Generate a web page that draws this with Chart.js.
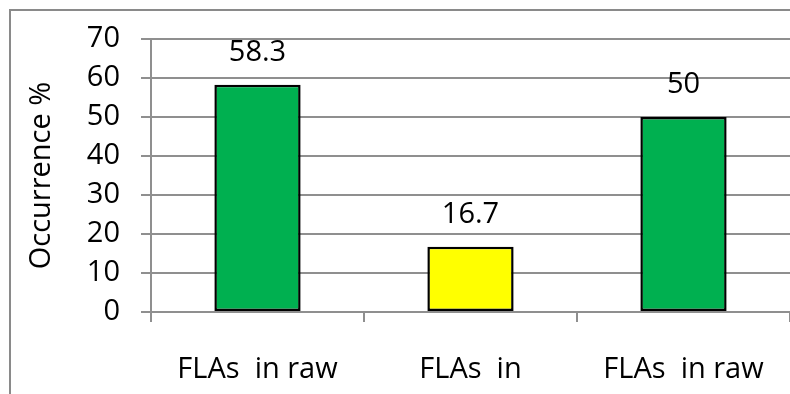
<!DOCTYPE html>
<html lang="en">
<head>
  <meta charset="utf-8">
  <title>FLAs occurrence</title>
  <script src="https://cdn.jsdelivr.net/npm/chart.js@4.4.1/dist/chart.umd.min.js"></script>
  <style>
    body { margin: 0; background: #fff; }
    #wrap { width: 790px; height: 394px; }
  </style>
</head>
<body>
  <div id="wrap"><canvas id="occChart" width="790" height="394"></canvas></div>

<script>
  // values
  var categories = ["FLAs  in raw", "FLAs  in", "FLAs  in raw"];
  var occurrence = [58.3, 16.7, 50];
  var barColors = ["#00B050", "#FFFF00", "#00B050"];
  var yTicks = [0, 10, 20, 30, 40, 50, 60, 70];

  var gridGray = "#8f8f8f";
  var textFont = { family: "'Open Sans'", size: 29 };

  // grey frame of the chart box (only left/top edges fall inside the picture)
  var frame = {
    id: "frame",
    beforeDraw: function(chart) {
      var ctx = chart.ctx;
      ctx.save();
      ctx.strokeStyle = "#8a8a8a";
      ctx.lineWidth = 2;
      ctx.strokeRect(10, 10, 800, 400);
      ctx.restore();
    }
  };

  // value written above every bar
  var valueLabels = {
    id: "valueLabels",
    afterDatasetsDraw: function(chart) {
      var ctx = chart.ctx;
      var meta = chart.getDatasetMeta(0);
      ctx.save();
      ctx.font = "29px 'Open Sans'";
      ctx.fillStyle = "#000";
      ctx.textAlign = "center";
      ctx.textBaseline = "alphabetic";
      meta.data.forEach(function(bar, i) {
        ctx.fillText(String(chart.data.datasets[0].data[i]), bar.x, bar.y - 24);
      });
      ctx.restore();
    }
  };

  var occChart = new Chart(document.getElementById("occChart"), {
    type: "bar",
    data: {
      labels: categories,
      datasets: [{
        label: "Occurrence %",
        data: occurrence,
        backgroundColor: barColors,
        borderColor: "#000",
        borderWidth: 2.5,
        borderSkipped: false,
        barPercentage: 0.405,
        categoryPercentage: 1
      }]
    },
    options: {
      responsive: false,
      animation: false,
      layout: { padding: { top: 39, right: -3, left: 0, bottom: 0 } },
      plugins: {
        legend: { display: false },
        tooltip: { enabled: false }
      },
      scales: {
        x: {
          grid: { drawOnChartArea: false, color: gridGray, lineWidth: 2, tickLength: 10, offset: true },
          border: { color: gridGray, width: 2 },
          ticks: { color: "#000", font: textFont, padding: 30, maxRotation: 0 },
          afterFit: function(scale) {
            scale.height = 82;
            scale.paddingLeft = 0;
            scale.paddingRight = 0;
          }
        },
        y: {
          min: 0,
          max: 70,
          afterBuildTicks: function(scale) {
            scale.ticks = yTicks.map(function(v) { return { value: v }; });
          },
          grid: { color: gridGray, lineWidth: 2, tickLength: 10 },
          border: { color: gridGray, width: 2 },
          ticks: { color: "#000", font: textFont, padding: 21 },
          title: {
            display: true,
            text: "Occurrence %",
            color: "#000",
            font: textFont,
            padding: { top: 24, bottom: 0 }
          },
          afterFit: function(scale) { scale.width = 151; }
        }
      }
    },
    plugins: [frame, valueLabels]
  });
</script>
</body>
</html>
